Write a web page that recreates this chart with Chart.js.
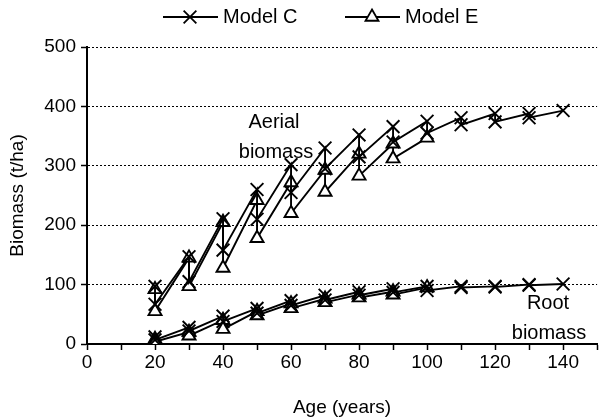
<!DOCTYPE html>
<html>
<head>
<meta charset="utf-8">
<script src="https://cdn.jsdelivr.net/npm/chart.js@4/dist/chart.umd.min.js"></script>
<style>
  html, body { margin: 0; padding: 0; background: #fff; }
  #wrap { width: 608px; height: 420px; }
</style>
</head>
<body>
<div id="wrap"><canvas id="chart"></canvas></div>
<script>
// ages (years)
const agesC = [20, 30, 40, 50, 60, 70, 80, 90, 100, 110, 120, 130, 140];
const agesE = [20, 30, 40, 50, 60, 70, 80, 90, 100];

// aerial biomass (t/ha): value at end of each period, then start of next
const aerialCTop = [97, 147, 211, 260, 302, 330, 352, 366, 375, 381, 388, 388, 393];
const aerialCLow = [67, 105, 158, 210, 255, 295, 315, 340, 355, 369, 374, 381, null];
const aerialETop = [92, 145, 205, 242, 272, 293, 320, 337, 347];
const aerialELow = [55, 97, 128, 178, 220, 256, 283, 312, null];

// root biomass (t/ha)
const rootCTop = [12, 28, 47, 60, 73, 82, 88, 93, 97, 97, 97, 100, 101];
const rootCLow = [7, 22, 38, 52, 65, 74, 82, 87, 90, 95, 96, 99, null];
const rootETop = [8, 20, 40, 55, 68, 76, 83, 88, 95];
const rootELow = [4, 14, 25, 48, 60, 70, 78, 83, null];

const xTicks = [0, 20, 40, 60, 80, 100, 120, 140];
const FS = 19;
const FS_TXT = 20;
const FONT = "Arial, 'Liberation Sans', sans-serif";

function sawtooth(ages, top, low) {
    const pts = [];
    ages.forEach((a, i) => {
        pts.push({ x: a, y: top[i] });
        if (low[i] != null) pts.push({ x: a, y: low[i] });
    });
    return pts;
}

Chart.defaults.font.family = FONT;
Chart.defaults.font.size = FS;
Chart.defaults.color = "#000";

const styleC = {
    borderColor: "#000", borderWidth: 1.9, showLine: true, fill: false,
    pointStyle: "crossRot", pointRadius: 9, pointBorderWidth: 1.9,
    pointBorderColor: "#000", pointBackgroundColor: "#000"
};
const styleE = {
    borderColor: "#000", borderWidth: 1.9, showLine: true, fill: false,
    pointStyle: "triangle", pointRadius: 7.5, pointBorderWidth: 1.9,
    pointBorderColor: "#000", pointBackgroundColor: "#fff"
};

// legend + text labels
const extras = {
    id: "extras",
    afterDraw(chart) {
        const ctx = chart.ctx;
        ctx.save();
        ctx.strokeStyle = "#000";
        ctx.fillStyle = "#000";
        ctx.lineWidth = 1.8;
        const ly = 17;
        // Model C
        ctx.beginPath(); ctx.moveTo(163, ly); ctx.lineTo(218, ly); ctx.stroke();
        const d = 9 * Math.SQRT1_2;
        ctx.beginPath();
        ctx.moveTo(190 - d, ly - d); ctx.lineTo(190 + d, ly + d);
        ctx.moveTo(190 - d, ly + d); ctx.lineTo(190 + d, ly - d);
        ctx.stroke();
        // Model E
        ctx.beginPath(); ctx.moveTo(345, ly); ctx.lineTo(400, ly); ctx.stroke();
        const r = 7.5;
        ctx.beginPath();
        ctx.moveTo(372, ly - r);
        ctx.lineTo(372 + r * Math.sin(2 * Math.PI / 3), ly + r * 0.5);
        ctx.lineTo(372 - r * Math.sin(2 * Math.PI / 3), ly + r * 0.5);
        ctx.closePath();
        ctx.fillStyle = "#fff"; ctx.fill(); ctx.stroke();
        ctx.fillStyle = "#000";
        ctx.font = FS_TXT + "px " + FONT;
        ctx.textBaseline = "middle";
        ctx.textAlign = "left";
        ctx.fillText("Model C", 223, ly);
        ctx.fillText("Model E", 405, ly);
        ctx.textAlign = "center";
        ctx.fillText("Aerial", 274, 122);
        ctx.fillText("biomass", 276, 152);
        ctx.fillText("Root", 548, 303);
        ctx.fillText("biomass", 549, 333);
        ctx.restore();
    }
};

new Chart(document.getElementById("chart"), {
    type: "scatter",
    data: {
        datasets: [
            Object.assign({ label: "Model C", data: sawtooth(agesC, aerialCTop, aerialCLow) }, styleC),
            Object.assign({ label: "Model E", data: sawtooth(agesE, aerialETop, aerialELow) }, styleE),
            Object.assign({ label: "Model C root", data: sawtooth(agesC, rootCTop, rootCLow) }, styleC),
            Object.assign({ label: "Model E root", data: sawtooth(agesE, rootETop, rootELow) }, styleE)
        ]
    },
    options: {
        responsive: true,
        maintainAspectRatio: false,
        animation: false,
        layout: { padding: { top: 47, right: 0, left: 0, bottom: 0 } },
        plugins: { legend: { display: false }, tooltip: { enabled: false } },
        scales: {
            x: {
                type: "linear", min: 0, max: 150,
                afterBuildTicks: s => { s.ticks = []; for (let v = 0; v <= 150; v += 10) s.ticks.push({ value: v }); },
                ticks: {
                    autoSkip: false, maxRotation: 0, padding: 1,
                    callback: v => xTicks.includes(v) ? String(v) : ""
                },
                grid: { drawOnChartArea: false, drawTicks: true, tickLength: 6, tickColor: "#000", tickWidth: 1.5 },
                border: { color: "#000", width: 2 },
                title: { display: true, text: "Age (years)", padding: { top: 0, bottom: 1 } },
                afterFit: s => { s.height = 76; }
            },
            y: {
                min: 0, max: 500,
                ticks: { stepSize: 100, padding: 5 },
                grid: { color: "#000", lineWidth: 1, drawTicks: true, tickLength: 6, tickColor: "#000", tickWidth: 1.5, tickBorderDash: [] },
                border: { color: "#000", width: 2, dash: [2, 2] },
                title: { display: true, text: "Biomass (t/ha)", padding: { top: 6, bottom: 0 } },
                afterFit: s => { s.width = 87; }
            }
        }
    },
    plugins: [extras]
});
</script>
</body>
</html>
